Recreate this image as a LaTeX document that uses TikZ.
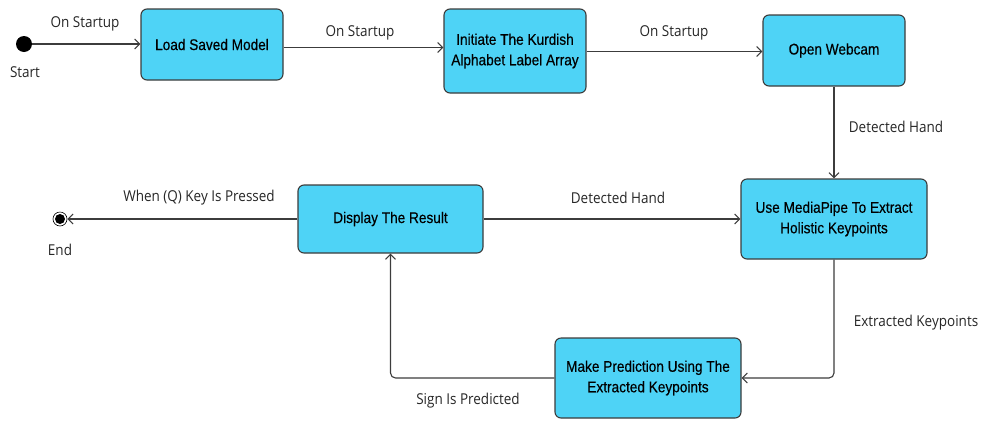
\documentclass[tikz,border=0pt]{standalone}
\usepackage{fontspec}
\usetikzlibrary{arrows.meta}
\newfontfamily\boxfont[FakeStretch=0.88,FakeBold=0.3]{Liberation Sans}
\newfontfamily\lblfont[FakeStretch=0.9]{Open Sans}
\definecolor{boxfill}{RGB}{78,211,246}
\definecolor{linec}{RGB}{60,60,60}
\tikzset{
  box/.style={draw=linec, line width=1.1pt, fill=boxfill, rounded corners=6pt, align=center,
    font=\boxfont\fontsize{15.5}{20.5}\selectfont, text=black},
  arr/.style={draw=linec, line width=1.1pt, -{Straight Barb[length=5pt,width=10pt]}},
  lbl/.style={font=\lblfont\fontsize{15}{17}\selectfont, text=black!85}
}
\begin{document}
\begin{tikzpicture}[x=1pt,y=-1pt]
\useasboundingbox (0,0) rectangle (981,421);
% nodes
\node[circle, fill=black, inner sep=0pt, minimum size=16pt] (start) at (24,44) {};
\node[lbl] (startl) at (25,72) {Start};
\node[box, minimum width=142pt, minimum height=71pt] (load) at (212,44.5) {Load Saved Model};
\node[box, minimum width=142pt, minimum height=84pt] (init) at (515,51) {Initiate The Kurdish\\Alphabet Label Array};
\node[box, minimum width=142pt, minimum height=71pt] (web) at (834,50.5) {Open Webcam};
\node[box, minimum width=186pt, minimum height=80pt] (mp) at (834,219) {Use MediaPipe To Extract\\Holistic Keypoints};
\node[box, minimum width=185pt, minimum height=68pt] (disp) at (390.5,219) {Display The Result};
\node[box, minimum width=186pt, minimum height=80pt] (pred) at (648,378) {Make Prediction Using The\\Extracted Keypoints};
\node[circle, draw=black, line width=0.6pt, inner sep=0pt, minimum size=14pt] (endo) at (60,219) {};
\node[circle, fill=black, inner sep=0pt, minimum size=10pt] (endi) at (60,219) {};
\node[lbl] (endl) at (60,250) {End};
% connectors
\draw[arr] (start) -- (load.west |- start);
\node[lbl] (l1) at (85,24) {On Startup};
\draw[arr] (load.east |- 0,47.5) -- (init.west |- 0,47.5);
\node[lbl] (l2) at (360,33) {On Startup};
\draw[arr] (init.east |- 0,51.5) -- (web.west |- 0,51.5);
\node[lbl] (l3) at (674,33) {On Startup};
\draw[arr] (web.south) -- (mp.north);
\node[lbl] (l4) at (896,127) {Detected Hand};
\draw[arr] (disp.east) -- (mp.west);
\node[lbl] (l5) at (618,198) {Detected Hand};
\draw[arr] (disp.west) -- (endo.east);
\node[lbl] (l6) at (199,198) {When (Q) Key Is Pressed};
\draw[arr, rounded corners=5pt] (mp.south) |- (pred.east);
\node[lbl] (l7) at (916,323) {Extracted Keypoints};
\draw[arr, rounded corners=5pt] (pred.west) -| (disp.south);
\node[lbl] (l8) at (468,401) {Sign Is Predicted};
\end{tikzpicture}
\end{document}
